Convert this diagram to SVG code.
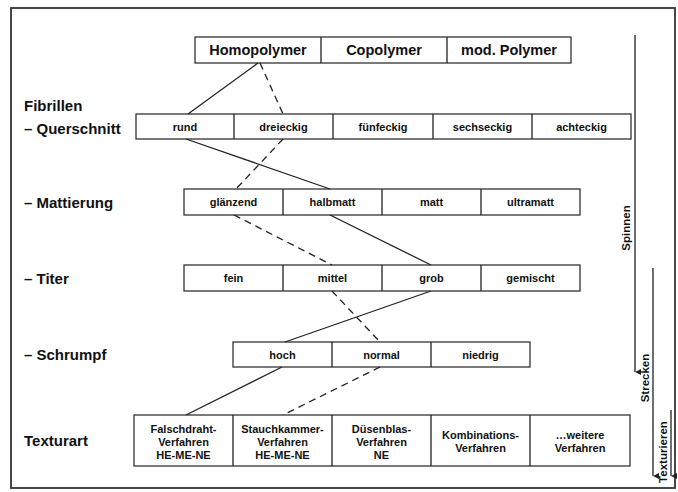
<svg xmlns="http://www.w3.org/2000/svg" width="678" height="492" viewBox="0 0 678 492">
<defs>
<style>
.frame{fill:none;stroke:#333;stroke-width:1.8}
.cell{fill:#fff;stroke:#222;stroke-width:1.2}
.t{font-family:"Liberation Sans",Arial,sans-serif;font-weight:bold;fill:#111;text-anchor:middle}
.big{font-size:14.5px}
.sm{font-size:11px}
.lab{font-family:"Liberation Sans",Arial,sans-serif;font-weight:bold;fill:#111;font-size:15px}
.rot{font-family:"Liberation Sans",Arial,sans-serif;font-weight:bold;fill:#111;font-size:11.5px;text-anchor:middle}
.sol{stroke:#222;stroke-width:1.3;fill:none}
.dsh{stroke:#222;stroke-width:1.3;fill:none;stroke-dasharray:7,5}
.ax{stroke:#222;stroke-width:1.3;fill:none}
</style>
<marker id="ah" viewBox="0 0 10 10" refX="5" refY="10" markerWidth="6" markerHeight="8" orient="auto-start-reverse" markerUnits="userSpaceOnUse">
<path d="M0,0 L5,10 L10,0 Z" fill="#222"/>
</marker>
</defs>
<rect width="678" height="492" fill="#fff"/>
<rect class="frame" x="11" y="8" width="664" height="480"/>

<g id="labels">
<text class="lab" x="24" y="111">Fibrillen</text>
<text class="lab" x="24" y="134">– Querschnitt</text>
<text class="lab" x="24" y="208">– Mattierung</text>
<text class="lab" x="24" y="284">– Titer</text>
<text class="lab" x="24" y="360">– Schrumpf</text>
<text class="lab" x="24" y="446">Texturart</text>
</g>

<g id="polymer">
<rect class="cell" x="195" y="37" width="376" height="26"/>
<line class="sol" x1="321" y1="37" x2="321" y2="63"/>
<line class="sol" x1="447" y1="37" x2="447" y2="63"/>
<text class="t big" x="258" y="55">Homopolymer</text>
<text class="t big" x="384" y="55">Copolymer</text>
<text class="t big" x="509" y="55">mod. Polymer</text>
</g>

<g id="querschnitt">
<rect class="cell" x="136" y="114" width="495" height="25"/>
<line class="sol" x1="234" y1="114" x2="234" y2="139"/>
<line class="sol" x1="333" y1="114" x2="333" y2="139"/>
<line class="sol" x1="433" y1="114" x2="433" y2="139"/>
<line class="sol" x1="532" y1="114" x2="532" y2="139"/>
<text class="t sm" x="185" y="131">rund</text>
<text class="t sm" x="283.5" y="131">dreieckig</text>
<text class="t sm" x="383" y="131">fünfeckig</text>
<text class="t sm" x="482.5" y="131">sechseckig</text>
<text class="t sm" x="581.5" y="131">achteckig</text>
</g>

<g id="mattierung">
<rect class="cell" x="184" y="189" width="396" height="26"/>
<line class="sol" x1="283" y1="189" x2="283" y2="215"/>
<line class="sol" x1="382" y1="189" x2="382" y2="215"/>
<line class="sol" x1="481" y1="189" x2="481" y2="215"/>
<text class="t sm" x="233.5" y="206">glänzend</text>
<text class="t sm" x="332.5" y="206">halbmatt</text>
<text class="t sm" x="431.5" y="206">matt</text>
<text class="t sm" x="530.5" y="206">ultramatt</text>
</g>

<g id="titer">
<rect class="cell" x="184" y="265" width="396" height="26"/>
<line class="sol" x1="283" y1="265" x2="283" y2="291"/>
<line class="sol" x1="382" y1="265" x2="382" y2="291"/>
<line class="sol" x1="481" y1="265" x2="481" y2="291"/>
<text class="t sm" x="233.5" y="282">fein</text>
<text class="t sm" x="332.5" y="282">mittel</text>
<text class="t sm" x="431.5" y="282">grob</text>
<text class="t sm" x="530.5" y="282">gemischt</text>
</g>

<g id="schrumpf">
<rect class="cell" x="233" y="342" width="297" height="25"/>
<line class="sol" x1="332" y1="342" x2="332" y2="367"/>
<line class="sol" x1="431" y1="342" x2="431" y2="367"/>
<text class="t sm" x="282.5" y="359">hoch</text>
<text class="t sm" x="381.5" y="359">normal</text>
<text class="t sm" x="480.5" y="359">niedrig</text>
</g>

<g id="texturart">
<rect class="cell" x="134" y="415" width="496" height="51"/>
<line class="sol" x1="233" y1="415" x2="233" y2="466"/>
<line class="sol" x1="332" y1="415" x2="332" y2="466"/>
<line class="sol" x1="431" y1="415" x2="431" y2="466"/>
<line class="sol" x1="530" y1="415" x2="530" y2="466"/>
<text class="t sm" x="183.5" y="433">Falschdraht-</text>
<text class="t sm" x="183.5" y="446">Verfahren</text>
<text class="t sm" x="183.5" y="459">HE-ME-NE</text>
<text class="t sm" x="282.5" y="433">Stauchkammer-</text>
<text class="t sm" x="282.5" y="446">Verfahren</text>
<text class="t sm" x="282.5" y="459">HE-ME-NE</text>
<text class="t sm" x="381.5" y="433">Düsenblas-</text>
<text class="t sm" x="381.5" y="446">Verfahren</text>
<text class="t sm" x="381.5" y="459">NE</text>
<text class="t sm" x="480.5" y="439">Kombinations-</text>
<text class="t sm" x="480.5" y="452">Verfahren</text>
<text class="t sm" x="580" y="439">…weitere</text>
<text class="t sm" x="580" y="452">Verfahren</text>
</g>

<g id="connectors">
<line class="sol" x1="258" y1="63" x2="188" y2="114"/>
<line class="dsh" x1="260" y1="63" x2="283" y2="114"/>
<line class="sol" x1="186" y1="139" x2="330" y2="189"/>
<line class="dsh" x1="283" y1="139" x2="236" y2="189"/>
<line class="dsh" x1="234" y1="215" x2="332" y2="265"/>
<line class="sol" x1="330" y1="215" x2="431" y2="265"/>
<line class="sol" x1="431" y1="291" x2="285" y2="342"/>
<line class="dsh" x1="332" y1="291" x2="380" y2="342"/>
<line class="sol" x1="282" y1="367" x2="186" y2="415"/>
<line class="dsh" x1="380" y1="367" x2="283" y2="415"/>
</g>

<g id="process">
<line class="ax" x1="635" y1="35" x2="635" y2="372" marker-end="url(#ah)"/>
<text class="rot" transform="translate(630,228) rotate(-90)">Spinnen</text>
<line class="ax" x1="653" y1="268" x2="653" y2="476" marker-end="url(#ah)"/>
<text class="rot" transform="translate(649,378) rotate(-90)">Strecken</text>
<line class="ax" x1="671" y1="410" x2="671" y2="476" marker-end="url(#ah)"/>
<text class="rot" transform="translate(667,452) rotate(-90)">Texturieren</text>
</g>
</svg>
